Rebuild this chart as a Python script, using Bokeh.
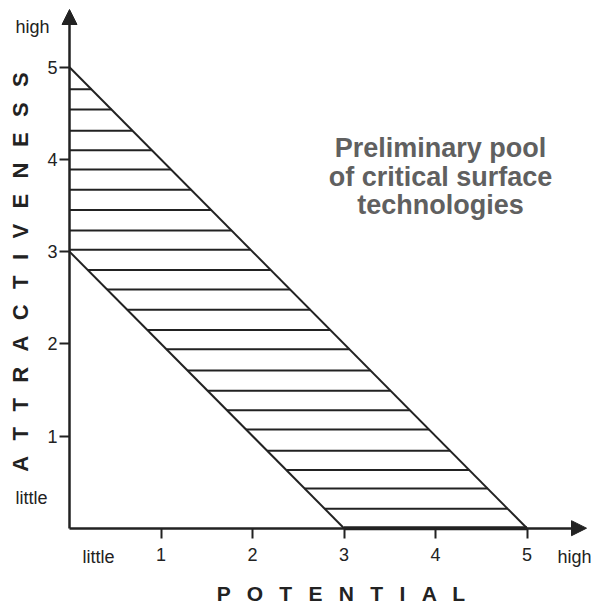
from bokeh.plotting import figure
from bokeh.models import Range1d, FixedTicker, Label, Arrow, NormalHead
from bokeh.embed import file_html
from bokeh.resources import INLINE

# ---- data ----
x_ticks = [1, 2, 3, 4, 5]
y_ticks = [1, 2, 3, 4, 5]
band_lower = 3   # lower boundary: potential + attractiveness = 3
band_upper = 5   # upper boundary: potential + attractiveness = 5
hatch_y = [4.76, 4.54, 4.31, 4.10, 3.89, 3.67, 3.45, 3.23, 3.02, 2.80, 2.59,
           2.37, 2.15, 1.94, 1.71, 1.49, 1.28, 1.07, 0.84, 0.63, 0.43, 0.21]
title_lines = ["Preliminary pool", "of critical surface", "technologies"]
x_title = " \u2002".join("POTENTIAL")
y_title = "\u2002\u2009".join("ATTRACTIVENESS")

FONT = "Liberation Sans"
INK = "#222222"

W, H = 592, 607
OX, OY = 69.0, 527.7      # pixel position of the origin
SX, SY = 91.5, 92.2       # pixels per unit
BASE_SHIFT = 6            # label baseline correction


def px(page_x):
    return (page_x - OX) / SX


def py(page_y):
    return (OY - page_y) / SY


p = figure(width=W, height=H, output_backend="svg", toolbar_location=None,
           x_range=Range1d(px(0), px(W)), y_range=Range1d(py(H), py(0)),
           min_border_left=0, min_border_right=0, min_border_top=0,
           min_border_bottom=0)
p.outline_line_color = None
p.xgrid.visible = False
p.ygrid.visible = False
p.background_fill_color = "white"
p.border_fill_color = "white"

x_line_end = px(576)
y_line_end = py(20)
for ax, ticks, end in ((p.xaxis[0], x_ticks, x_line_end), (p.yaxis[0], y_ticks, y_line_end)):
    ax.fixed_location = 0
    ax.bounds = (0, end)
    ax.ticker = FixedTicker(ticks=ticks)
    ax.axis_line_width = 2.5
    ax.axis_line_color = INK
    ax.major_tick_line_width = 2
    ax.major_tick_line_color = INK
    ax.major_tick_in = 0
    ax.major_tick_out = 10
    ax.minor_tick_line_color = None
    ax.major_label_text_font = FONT
    ax.major_label_text_font_size = "18px"
    ax.major_label_text_color = INK
p.xaxis[0].major_label_standoff = 10
p.yaxis[0].major_label_standoff = 2

# hatch lines inside the band
x0 = [max(0, band_lower - y) for y in hatch_y]
x1 = [band_upper - y for y in hatch_y]
p.segment(x0=x0, y0=hatch_y, x1=x1, y1=hatch_y, line_color=INK, line_width=2)

# band boundaries
p.line([0, band_lower], [band_lower, 0], line_color=INK, line_width=2)
p.line([0, band_upper], [band_upper, 0], line_color=INK, line_width=2)
p.line([band_lower, band_upper], [0, 0], line_color=INK, line_width=4)

# axis arrow heads
p.add_layout(Arrow(x_start=px(570), y_start=0, x_end=px(586), y_end=0,
                   line_alpha=0,
                   end=NormalHead(size=15, fill_color=INK, line_color=INK)))
p.add_layout(Arrow(x_start=0, y_start=py(25), x_end=0, y_end=py(9),
                   line_alpha=0,
                   end=NormalHead(size=15, fill_color=INK, line_color=INK)))


def lab(text, x, base, size, align="left", color=INK, bold=False):
    p.add_layout(Label(x=x, y=py(base - BASE_SHIFT), text=text, text_font=FONT,
                       text_font_size=size, text_align=align,
                       text_baseline="alphabetic", text_color=color,
                       text_font_style="bold" if bold else "normal"))


lab("high", px(15), 32, "18px")
lab("little", px(15), 503, "18px")
lab("little", px(82), 562, "18px")
lab("high", px(557), 562, "18px")

for line, base in zip(title_lines, [153, 182, 210]):
    lab(line, px(440), base, "27px", align="center", color="#606060", bold=True)

lab(x_title, px(341), 599, "21px", align="center", bold=True)

p.add_layout(Label(x=px(20), y=py(271.5), text=y_title, text_font=FONT,
                   text_font_size="22px", text_align="center",
                   text_baseline="middle", text_color=INK,
                   text_font_style="bold", angle=1.5707963))

open("out.html", "w").write(file_html(p, INLINE))
